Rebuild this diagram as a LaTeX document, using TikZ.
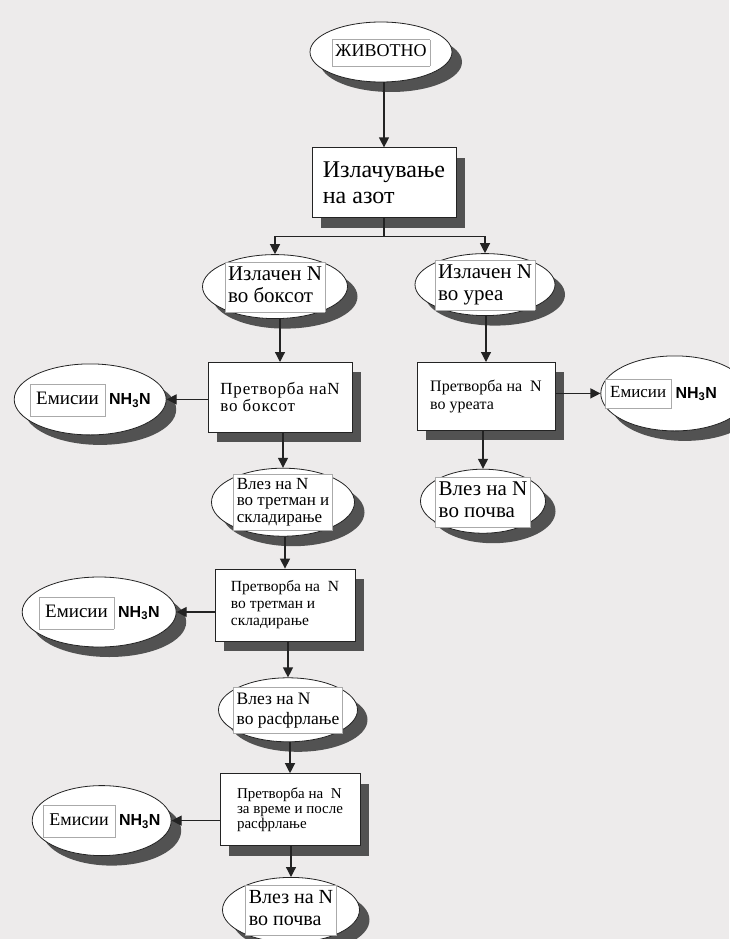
\documentclass[tikz,border=0pt]{standalone}
\usepackage{fontspec}
\setmainfont{Liberation Serif}
\setsansfont{Liberation Sans}
\usepackage{xcolor}
\usetikzlibrary{shapes,arrows.meta,positioning,shadows}

\definecolor{paper}{RGB}{237,235,235}
\definecolor{shade}{RGB}{82,82,82}
\definecolor{framegray}{RGB}{170,170,170}
\definecolor{ink}{RGB}{35,35,35}

% framed text block inside the ovals
\newcommand{\tframe}[2][3pt]{{\setlength{\fboxsep}{#1}\fcolorbox{framegray}{white}{\begin{tabular}{@{}l@{}}#2\end{tabular}}}}
% zero-size wrapper, so the oval keeps its own size
\newcommand{\inoval}[1]{\makebox[0pt]{\smash{\raisebox{-.28em}{#1}}}}
\newcommand{\nhn}{{\fontsize{16}{16}\selectfont\sffamily\bfseries NH\textsubscript{3}N}}

\begin{document}
\begin{tikzpicture}[
  x=1pt, y=1pt,
  oval/.style={ellipse, draw=ink, line width=0.8pt, fill=white, inner sep=0pt,
    general shadow={fill=shade, shadow xshift=10pt, shadow yshift=-10pt}},
  box/.style={rectangle, draw=ink, line width=0.8pt, fill=white, inner sep=2pt, align=left,
    general shadow={fill=shade, shadow xshift=9pt, shadow yshift=-10pt}},
  arrow/.style={->, >={Triangle[length=10pt, width=10pt]}, line width=1.2pt, draw=ink}
]
  \path[use as bounding box, fill=paper] (0,0) rectangle (729,-939);
  % Top: animal and excretion
  \node[oval, minimum width=142pt, minimum height=60pt, font=\fontsize{18}{20}\selectfont] (animal) at (381,-52) {\inoval{\tframe{ЖИВОТНО}}};
  \node[box, below=65pt of animal, xshift=3pt, minimum width=144pt, minimum height=70pt, font=\fontsize{24}{26}\selectfont] (excr) {Излачување\\на азот};
  % Split: stall and urea
  \node[oval, below=36pt of excr, xshift=-109pt, minimum width=145pt, minimum height=64pt, font=\fontsize{21}{22}\selectfont] (boxN) {\inoval{\tframe{Излачен N\\во боксот}}};
  \node[oval, below=35pt of excr, xshift=101pt, minimum width=140pt, minimum height=62pt, font=\fontsize{21}{22}\selectfont] (ureaN) {\inoval{\tframe{Излачен N\\во уреа}}};
  % Left column
  \node[box, below=43pt of boxN, xshift=5pt, minimum width=144pt, minimum height=70pt, font=\fontsize{17}{17}\selectfont\addfontfeature{LetterSpace=5}] (convBox) {Претворба наN\\во боксот};
  \node[oval, left=41pt of convBox, yshift=-2pt, minimum width=152pt, minimum height=71pt, font=\fontsize{19}{20}\selectfont] (emis1) {\inoval{\tframe[6pt]{Емисии}\hspace{4pt}\nhn}};
  \node[oval, below=35pt of convBox, xshift=3pt, minimum width=143pt, minimum height=68pt, font=\fontsize{17}{16.5}\selectfont] (inStore) {\inoval{\tframe{Влез на N\\во третман и\\складирање}}};
  \node[box, below=32pt of inStore, xshift=2pt, minimum width=140pt, minimum height=72pt, font=\fontsize{15.5}{17}\selectfont] (convStore) {Претворба на\ \ N\\во третман и\\складирање};
  \node[oval, left=38pt of convStore, yshift=-7pt, minimum width=154pt, minimum height=70pt, font=\fontsize{19}{20}\selectfont] (emis2) {\inoval{\tframe[6pt]{Емисии}\hspace{4pt}\nhn}};
  \node[oval, below=36pt of convStore, xshift=3pt, minimum width=139pt, minimum height=64pt, font=\fontsize{17.5}{20}\selectfont] (inSpread) {\inoval{\tframe{Влез на N\\во расфрлање}}};
  \node[box, below=31pt of inSpread, xshift=2pt, minimum width=140pt, minimum height=72pt, font=\fontsize{15}{15}\selectfont] (convSpread) {Претворба на\ \ N\\за време и после\\расфрлање};
  \node[oval, left=48pt of convSpread, yshift=-11pt, minimum width=139pt, minimum height=70pt, font=\fontsize{18}{20}\selectfont] (emis3) {\inoval{\tframe[6pt]{Емисии}\hspace{4pt}\nhn}};
  \node[oval, below=31pt of convSpread, xshift=1pt, minimum width=137pt, minimum height=65pt, font=\fontsize{20}{22}\selectfont] (soilL) {\inoval{\tframe{Влез на N\\во почва}}};
  % Right column
  \node[box, below=46pt of ureaN, xshift=1pt, minimum width=138pt, minimum height=68pt, font=\fontsize{16}{18}\selectfont] (convUrea) {Претворба на\ \ N\\во уреата};
  \node[oval, right=45pt of convUrea, yshift=3pt, minimum width=148pt, minimum height=75pt, font=\fontsize{17}{18}\selectfont] (emisR) {\inoval{\tframe[5pt]{Емисии}\hspace{4pt}\nhn\hspace{28pt}}};
  \node[oval, below=38pt of convUrea, xshift=-3pt, minimum width=125pt, minimum height=64pt, font=\fontsize{21}{22}\selectfont] (soilR) {\inoval{\tframe{Влез на N\\во почва}}};
  % Arrows
  \draw[arrow] (animal.south -| excr.north) -- (excr.north);
  \draw[arrow] (excr.south) -- ++(0,-18pt) -| (boxN.north);
  \draw[arrow] (excr.south) -- ++(0,-18pt) -| (ureaN.north);
  \draw[arrow] (boxN.south -| convBox.north) -- (convBox.north);
  \draw[arrow] (convBox.west |- emis1.east) -- (emis1.east);
  \draw[arrow] (convBox.south -| inStore.north) -- (inStore.north);
  \draw[arrow] (inStore.south -| convStore.north) -- (convStore.north);
  \draw[arrow] (convStore.west |- emis2.east) -- (emis2.east);
  \draw[arrow] (convStore.south -| inSpread.north) -- (inSpread.north);
  \draw[arrow] (inSpread.south -| convSpread.north) -- (convSpread.north);
  \draw[arrow] (convSpread.west |- emis3.east) -- (emis3.east);
  \draw[arrow] (convSpread.south -| soilL.north) -- (soilL.north);
  \draw[arrow] (ureaN.south -| convUrea.north) -- (convUrea.north);
  \draw[arrow] (convUrea.east |- emisR.west) -- (emisR.west);
  \draw[arrow] (convUrea.south -| soilR.north) -- (soilR.north);
\end{tikzpicture}
\end{document}
